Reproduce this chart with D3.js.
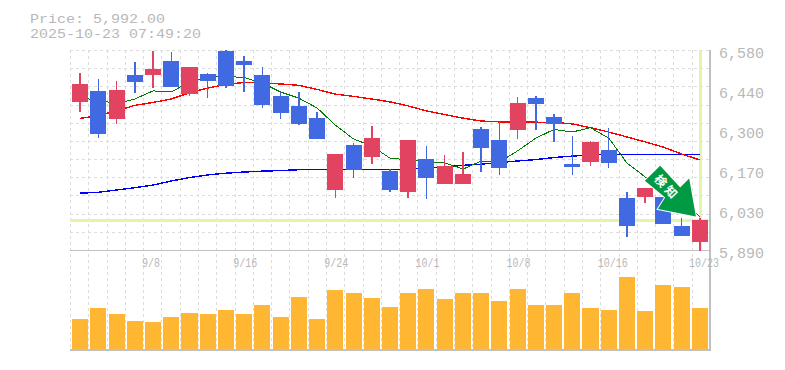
<!DOCTYPE html>
<html>
<head>
<meta charset="utf-8">
<script src="https://cdn.jsdelivr.net/npm/d3@7"></script>
<style>
    html, body { margin: 0; padding: 0; background: #fff; }
    svg { display: block; }
    text { font-family: "Liberation Mono", monospace; fill: #b8b8b8; }
</style>
</head>
<body>
<div id="chart"></div>
<script>
const titleLines = ['Price: 5,992.00', '2025-10-23 07:49:20'];
const lastPrice = 5992;

const dates = ['9/2','9/3','9/4','9/5','9/8','9/9','9/10','9/11','9/12','9/16','9/17','9/18','9/19','9/22','9/24','9/25','9/26','9/29','9/30',
    '10/1','10/2','10/3','10/6','10/7','10/8','10/9','10/10','10/14','10/15','10/16','10/17','10/20','10/21','10/22','10/23'];
const dateTicks = ['9/8','9/16','9/24','10/1','10/8','10/16','10/23'];
const priceTicks = [6580, 6442, 6304, 6166, 6028, 5890];

const opens  = [6401,6439,6342,6494,6494,6542,6428,6497,6577,6542,6494,6421,6387,6345,6097,6252,6211,6163,6090,6204,6118,6118,6307,6270,6304,6414,6349,6187,6194,6235,6069,6073,6073,5973,5918];
const highs  = [6501,6480,6473,6539,6577,6573,6521,6501,6580,6559,6521,6435,6435,6366,6221,6259,6318,6169,6270,6249,6218,6228,6314,6335,6418,6421,6359,6283,6266,6311,6090,6104,6073,6000,6000];
const lows   = [6366,6277,6326,6433,6450,6452,6421,6414,6449,6435,6380,6342,6321,6273,6069,6138,6187,6090,6069,6066,6118,6118,6159,6149,6273,6304,6263,6149,6180,6173,5935,6052,5980,5938,5887];
const closes = [6463,6290,6442,6470,6514,6452,6521,6473,6456,6528,6390,6363,6325,6273,6221,6167,6276,6097,6270,6138,6180,6152,6242,6173,6397,6394,6325,6176,6263,6190,5973,6104,5980,5938,5992];
const volumes = [30,41,35,28,27,32,36,35,39,35,44,32,52,30,59,56,51,42,56,60,50,56,56,48,60,44,44,56,41,39,72,38,64,62,41];

const maShort = [6414,6408,6394,6411,6439,6435,6470,6487,6489,6485,6466,6435,6414,6380,6321,6273,6249,6207,6201,6194,6191,6169,6197,6194,6232,6276,6306,6297,6312,6276,6190,6142,6111,6063,6004];
const maMid   = [6344,6354,6370,6389,6399,6411,6432,6449,6461,6468,6466,6463,6458,6444,6428,6420,6411,6401,6387,6370,6357,6345,6335,6332,6331,6331,6330,6325,6312,6297,6280,6263,6245,6221,6201];
const maLong  = [6086,6089,6097,6105,6114,6128,6140,6149,6155,6159,6162,6164,6167,6167,6167,6167,6167,6167,6168,6173,6176,6182,6186,6192,6197,6202,6209,6214,6218,6219,6220,6220,6220,6220,6220];

const width = 785, height = 370;
const plotLeft = 70, plotRight = 710, plotTop = 50, plotMid = 250, plotBottom = 350;
const upColor = '#e24361', downColor = '#4169e1', volColor = '#ffb733', crossColor = '#e2f5a8', axisColor = '#c0c0c0';

const svg = d3.select('#chart').append('svg')
    .attr('width', width)
    .attr('height', height)
    .attr('viewBox', `0 0 ${width} ${height}`);

const x = d3.scaleBand()
    .domain(dates)
    .range([71, 709])
    .paddingInner(0.12)
    .paddingOuter(0.06);
const cx = d => x(d) + x.bandwidth() / 2;

const y = d3.scaleLinear().domain([5890, 6580]).range([plotMid, plotTop]);
const yVol = d3.scaleLinear().domain([0, 100]).range([349, 249]);

// grid
const gridX = d3.scaleLinear().domain([0, 35]).range([plotLeft, plotRight]);
const gridY = d3.scaleLinear().domain([0, 11]).range([plotTop, plotMid]);
const grid = svg.append('g')
    .attr('stroke', '#dcdcdc')
    .attr('stroke-dasharray', '3 3')
    .attr('shape-rendering', 'crispEdges');

grid.selectAll('.gx')
    .data(d3.range(0, 35))
    .enter()
    .append('line')
    .attr('x1', d => Math.round(gridX(d)))
    .attr('x2', d => Math.round(gridX(d)))
    .attr('y1', plotTop)
    .attr('y2', plotBottom);

grid.selectAll('.gy')
    .data(d3.range(0, 11))
    .enter()
    .append('line')
    .attr('x1', plotLeft)
    .attr('x2', plotRight)
    .attr('y1', d => Math.round(gridY(d)))
    .attr('y2', d => Math.round(gridY(d)));

// current price cross
svg.append('line')
    .attr('x1', plotLeft).attr('x2', plotRight)
    .attr('y1', y(lastPrice) + 0.5).attr('y2', y(lastPrice) + 0.5)
    .attr('stroke', crossColor).attr('stroke-width', 3)
    .attr('shape-rendering', 'crispEdges');
svg.append('line')
    .attr('x1', cx(dates[34]) + 0.6).attr('x2', cx(dates[34]) + 0.6)
    .attr('y1', plotTop).attr('y2', plotMid)
    .attr('stroke', crossColor).attr('stroke-width', 3)
    .attr('shape-rendering', 'crispEdges');

// frame
const frame = svg.append('g')
    .attr('stroke', axisColor)
    .attr('shape-rendering', 'crispEdges');
frame.append('line').attr('x1', plotLeft).attr('x2', plotRight + 1).attr('y1', plotMid).attr('y2', plotMid).attr('stroke-width', 1);
frame.append('line').attr('x1', plotLeft).attr('x2', plotRight + 1).attr('y1', plotBottom).attr('y2', plotBottom).attr('stroke-width', 2);
frame.append('line').attr('x1', plotRight).attr('x2', plotRight).attr('y1', plotTop).attr('y2', plotBottom).attr('stroke-width', 2);

// volume
svg.selectAll('.vol')
    .data(dates)
    .enter()
    .append('rect')
    .attr('class', 'vol')
    .attr('x', d => x(d))
    .attr('width', x.bandwidth())
    .attr('y', (d, i) => yVol(volumes[i]))
    .attr('height', (d, i) => yVol(0) - yVol(volumes[i]))
    .attr('fill', volColor)
    .attr('shape-rendering', 'crispEdges');

// moving averages
const line = d3.line()
    .x((d, i) => cx(dates[i]))
    .y(d => y(d));

[[maLong, '#0000ff', 1.4], [maMid, '#ff0000', 1.4], [maShort, '#007a00', 1]].forEach(s => {
    svg.append('path')
        .datum(s[0])
        .attr('fill', 'none')
        .attr('stroke', s[1])
        .attr('stroke-width', s[2])
        .attr('shape-rendering', 'crispEdges')
        .attr('d', line);
});

// candles
const candle = svg.selectAll('.candle')
    .data(dates)
    .enter()
    .append('g')
    .attr('class', 'candle')
    .attr('shape-rendering', 'crispEdges')
    .attr('fill', (d, i) => closes[i] >= opens[i] ? upColor : downColor)
    .attr('stroke', (d, i) => closes[i] >= opens[i] ? upColor : downColor);

candle.append('line')
    .attr('x1', d => cx(d))
    .attr('x2', d => cx(d))
    .attr('y1', (d, i) => y(highs[i]))
    .attr('y2', (d, i) => y(lows[i]))
    .attr('stroke-width', 1.5);

candle.append('rect')
    .attr('stroke', 'none')
    .attr('x', d => x(d))
    .attr('width', x.bandwidth())
    .attr('y', (d, i) => y(Math.max(opens[i], closes[i])))
    .attr('height', (d, i) => Math.abs(y(opens[i]) - y(closes[i])));

// labels are stretched to a fixed advance, the original font is wider than Liberation Mono
const fitText = (sel, size, advance) => sel
    .style('font-size', `${size}px`)
    .style('font-family', '"Liberation Mono", monospace')
    .attr('textLength', function() { return this.textContent.length * advance; })
    .attr('lengthAdjust', 'spacingAndGlyphs');

// axis labels
const xAxis = d3.axisBottom(x)
    .tickValues(dateTicks)
    .tickSize(0);
const gx = svg.append('g')
    .attr('transform', `translate(0, ${plotMid})`)
    .call(xAxis);
gx.select('.domain').remove();
gx.selectAll('text')
    .attr('text-anchor', 'start')
    .attr('x', -11)
    .attr('y', 17)
    .attr('dy', 0)
    .call(fitText, 13, 6);

const yAxis = d3.axisRight(y)
    .tickValues(priceTicks)
    .tickSize(0)
    .tickFormat(d => d3.format(',')(Math.round(d / 10) * 10));
const gy = svg.append('g')
    .attr('transform', `translate(${plotRight + 9}, 3)`)
    .call(yAxis);
gy.select('.domain').remove();
gy.selectAll('text')
    .attr('x', 0)
    .call(fitText, 14.5, 9);

// title
svg.selectAll('.title')
    .data(titleLines)
    .enter()
    .append('text')
    .attr('class', 'title')
    .attr('x', 30)
    .attr('y', (d, i) => 22.5 + i * 15.6)
    .text(d => d)
    .call(fitText, 13.7, 9);

// signal arrow, tip sits on the last candle
const tipX = cx(dates[34]) - 4;
const tipY = y(lastPrice) - 4;
const arrowOffsets = [[-35.7, -50.7], [-15.7, -29], [-6.7, -38], [0, 0], [-38, -7.4], [-30.7, -19], [-51, -35.7]];
const arrow = svg.append('g').attr('transform', `translate(${tipX},${tipY})`);
arrow.append('polygon')
    .attr('points', arrowOffsets.map(p => p.join(',')).join(' '))
    .attr('fill', '#009944')
    .attr('stroke', '#fff')
    .attr('stroke-width', 2)
    .attr('paint-order', 'stroke');
arrow.append('text')
    .attr('transform', 'translate(-29,-29) rotate(47)')
    .attr('text-anchor', 'middle')
    .attr('dy', '0.36em')
    .style('font-family', '"Noto Sans CJK JP", sans-serif')
    .style('font-weight', 'bold')
    .style('font-size', '12px')
    .style('letter-spacing', '3px')
    .style('fill', '#fff')
    .text('検知');
</script>
</body>
</html>
